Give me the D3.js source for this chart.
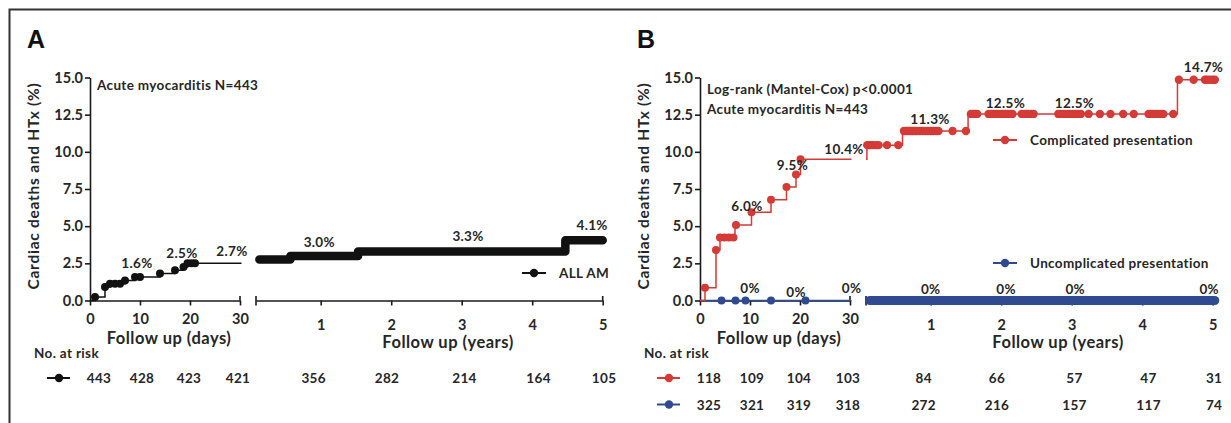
<!DOCTYPE html>
<html lang="en">
<head>
<meta charset="utf-8"/>
<title>Cardiac deaths and HTx</title>
<script src="https://cdn.jsdelivr.net/npm/d3@7"></script>
<style>
  body { margin: 0; background: #fff; }
  svg text { font-family: Lato, "Open Sans", sans-serif; font-weight: 700; fill: #262626; }
  svg text.small { font-size: 13.5px; letter-spacing: 0.35px; }
</style>
</head>
<body>
<svg id="chart" width="1231" height="423"></svg>
<script>
// ---------- data ----------
const yTicks = [0, 2.5, 5, 7.5, 10, 12.5, 15];
const dayTicks = [0, 10, 20, 30];
const yearTicks = [1, 2, 3, 4, 5];

// panel A - all AM, first 30 days (step curve + event dots)
const amDayT = [0, 1, 3, 4, 7, 9, 14, 17, 18.7, 19.5, 30.3];
const amDayV = [0, 0.23, 0.9, 1.13, 1.35, 1.58, 1.81, 2.03, 2.26, 2.5, 2.5];
const amDayDots = [1, 3, 4, 5, 6, 7, 9, 10, 14, 17, 18.7, 19.5, 20.3, 21];
// panel A - years (censor marks so dense they read as a thick bar)
const amYearT = [0.13, 0.57, 1.53, 4.47, 5.0];
const amYearV = [2.75, 3.0, 3.3, 4.05, 4.05];
const amDayLabels = [["1.6%", 9.4, 2.5], ["2.5%", 18.4, 3.18], ["2.7%", 28.4, 3.3]];
const amYearLabels = [["3.0%", 0.98, 3.94], ["3.3%", 3.09, 4.32], ["4.1%", 4.85, 5.07]];
const amRiskDays = [443, 428, 423, 421];
const amRiskYears = [356, 282, 214, 164, 105];

// panel B - complicated presentation
const compDayT = [0, 1, 3.2, 4, 7, 10.3, 14.2, 17.3, 19.2, 20.1, 30.3];
const compDayV = [0, 0.85, 3.39, 4.24, 5.08, 5.93, 6.78, 7.63, 8.47, 9.5, 9.5];
const compDayDots = [1, 3.2, 4, 4.9, 5.8, 6.7, 7.2, 10.3, 14.2, 17.3, 19.2, 20.1];
const compYearT = [0.082, 0.095, 0.6, 1.53, 4.5, 5.04];
const compYearV = [9.5, 10.45, 11.4, 12.55, 14.85, 14.85];
const compYearDots = [0.1, 0.13, 0.16, 0.19, 0.23, 0.26, 0.38, 0.54,
  0.62, 0.65, 0.68, 0.71, 0.74, 0.77, 0.8, 0.84, 0.88, 0.92, 0.96, 1.0, 1.04, 1.08, 1.11, 1.31, 1.5,
  1.57, 1.6, 1.63, 1.66, 1.82, 1.86, 1.89, 1.93, 1.96, 2.0, 2.03, 2.06, 2.1, 2.13, 2.16,
  2.29, 2.33, 2.36, 2.39, 2.43, 2.46,
  2.81, 2.84, 2.88, 2.91, 2.95, 2.98, 3.02, 3.06, 3.1, 3.13, 3.24, 3.4, 3.55, 3.73, 3.88,
  4.09, 4.12, 4.16, 4.2, 4.23, 4.27, 4.3, 4.44,
  4.52, 4.73, 4.89, 4.92, 4.96, 5.0, 5.03];
const compDayLabels = [["6.0%", 9.4, 6.35], ["9.5%", 18.5, 9.07], ["10.4%", 28.8, 10.15]];
const compYearLabels = [["11.3%", 0.99, 12.16], ["12.5%", 2.06, 13.24], ["12.5%", 3.04, 13.24], ["14.7%", 4.87, 15.72]];
const compRiskDays = [118, 109, 104, 103];
const compRiskYears = [84, 66, 57, 47, 31];

// panel B - uncomplicated presentation
const uncompDayT = [0, 30.3];
const uncompDayV = [0, 0];
const uncompDayDots = [4.3, 7.1, 9.1, 14.2, 21.1];
const uncompYearT = [0.135, 5.03];
const uncompYearV = [0, 0];
const uncompDayLabels = [["0%", 10, 0.85], ["0%", 19.2, 0.52], ["0%", 30.3, 0.85]];
const uncompYearLabels = [["0%", 1.0, 0.75], ["0%", 2.07, 0.75], ["0%", 3.05, 0.75], ["0%", 4.95, 0.75]];
const uncompRiskDays = [325, 321, 319, 318];
const uncompRiskYears = [272, 216, 157, 117, 74];

// where the risk numbers sit under the two axes
const riskDayPos = [1.8, 10.4, 19.8, 29.6];
const riskYearPos = [0.9, 1.94, 3.04, 4.09, 5.02];

const black = "#111", red = "#d43a36", blue = "#2f4a91";

// ---------- drawing ----------
const svg = d3.select("#chart");

// frame (top + left edges visible)
svg.append("path").attr("d", "M9.5,423V9.5H1231")
  .attr("fill", "none").attr("stroke", "#333").attr("stroke-width", 2);

const stepAt = (T, V, t) => V[Math.max(0, d3.bisectRight(T, t) - 1)];

function panel(ox, opts) {
  const g = svg.append("g");
  const y = d3.scaleLinear([0, 15], [300.5, 77.5]);
  const xd = d3.scaleLinear([0, 30], [ox, ox + 150]);
  const xy = d3.scaleLinear([0.082, 5], [ox + 166, ox + 512.7]);

  // panel letter
  g.append("text").attr("x", ox - 63).attr("y", 48)
    .style("font-family", "'Liberation Sans', Arial, sans-serif").style("font-size", "25px").style("fill", "#111")
    .text(opts.letter);

  // y axis
  const ya = g.append("g").attr("transform", `translate(${ox},0)`)
    .call(d3.axisLeft(y).tickValues(yTicks).tickFormat(d3.format(".1f")).tickSize(5).tickSizeOuter(0).tickPadding(2));
  ya.selectAll("text").style("font-size", "14.5px");
  g.append("text")
    .attr("transform", `translate(${ox - 56},${186}) rotate(-90)`)
    .attr("text-anchor", "middle").attr("dy", "0.35em")
    .style("font-size", "15.5px").style("letter-spacing", "0.75px")
    .text("Cardiac deaths and HTx (%)");

  // days axis
  const da = g.append("g").attr("transform", `translate(0,300.5)`)
    .call(d3.axisBottom(xd).tickValues(dayTicks).tickSize(5).tickSizeOuter(0).tickPadding(8));
  da.selectAll("text").style("font-size", "14.5px");
  g.append("line").attr("x1", xd(30)).attr("x2", xd(30)).attr("y1", 296).attr("y2", 300.5);

  // years axis
  const yra = g.append("g").attr("transform", `translate(0,300.5)`)
    .call(d3.axisBottom(xy).tickValues(yearTicks).tickFormat(d3.format("d"))
      .tickSize(5).tickSizeOuter(0).tickPadding(14));
  yra.selectAll("text").style("font-size", "14.5px");
  g.append("line").attr("x1", xy.range()[0]).attr("x2", xy.range()[0]).attr("y1", 296).attr("y2", 305.5);
  g.append("line").attr("x1", xy(5)).attr("x2", xy(5)).attr("y1", 296).attr("y2", 300.5);

  g.selectAll(".domain, .tick line, line").attr("stroke", "#1a1a1a").attr("stroke-width", 1.6);
  g.selectAll(".tick text").style("fill", "#262626");

  // axis titles
  g.append("text").attr("x", ox + 79).attr("y", 344).attr("text-anchor", "middle")
    .style("font-size", "16.5px").style("letter-spacing", "0.5px").text("Follow up (days)");
  g.append("text").attr("x", ox + 358).attr("y", 347.5).attr("text-anchor", "middle")
    .style("font-size", "16.5px").style("letter-spacing", "0.5px").text("Follow up (years)");

  // annotation lines at top
  opts.notes.forEach(([s, by]) => {
    g.append("text").attr("class", "small").attr("x", ox + 7).attr("y", by).text(s);
  });

  // series
  const dayLine = d3.line().x(d => xd(d[0])).y(d => y(d[1])).curve(d3.curveStepAfter);
  const yearLine = d3.line().x(d => xy(d[0])).y(d => y(d[1])).curve(d3.curveStepAfter);

  opts.series.forEach(s => {
    // days part
    g.append("path").datum(d3.zip(s.dayT, s.dayV)).attr("d", dayLine)
      .attr("fill", "none").attr("stroke", s.color).attr("stroke-width", 1.5);
    g.selectAll(null).data(s.dayDots).join("circle")
      .attr("cx", t => xd(t)).attr("cy", t => y(stepAt(s.dayT, s.dayV, t)))
      .attr("r", 4).attr("fill", s.color);
    // years part
    if (s.yearDots) {
      g.append("path").datum(d3.zip(s.yearT, s.yearV)).attr("d", yearLine)
        .attr("fill", "none").attr("stroke", s.color).attr("stroke-width", 1.5);
      g.selectAll(null).data(s.yearDots).join("circle")
        .attr("cx", t => xy(t)).attr("cy", t => y(stepAt(s.yearT, s.yearV, t)))
        .attr("r", 4.2).attr("fill", s.color);
    } else {
      g.append("path").datum(d3.zip(s.yearT, s.yearV)).attr("d", yearLine)
        .attr("fill", "none").attr("stroke", s.color).attr("stroke-width", s.barWidth)
        .attr("stroke-linecap", "round").attr("stroke-linejoin", "round");
    }
    // value labels
    s.dayLabels.forEach(([txt, t, v]) => {
      g.append("text").attr("class", "small").attr("x", xd(t)).attr("y", y(v)).attr("dy", "0.35em")
        .attr("text-anchor", "middle").text(txt);
    });
    s.yearLabels.forEach(([txt, t, v]) => {
      g.append("text").attr("class", "small").attr("x", xy(t)).attr("y", y(v)).attr("dy", "0.35em")
        .attr("text-anchor", "middle").text(txt);
    });
    // legend entry
    const lg = g.append("g").attr("transform", `translate(${s.legend[0]},${s.legend[1]})`);
    lg.append("line").attr("x1", -12).attr("x2", 12).attr("stroke", s.color).attr("stroke-width", 2);
    lg.append("circle").attr("r", 4.2).attr("fill", s.color);
    lg.append("text").attr("class", "small").attr("x", 25).attr("dy", "0.35em").text(s.name);

    // number at risk row
    const rk = g.append("g").attr("transform", `translate(0,${s.riskY})`);
    rk.append("line").attr("x1", ox - 43).attr("x2", ox - 20).attr("y1", -5).attr("y2", -5)
      .attr("stroke", s.color).attr("stroke-width", 2);
    rk.append("circle").attr("cx", ox - 31).attr("cy", -5).attr("r", 4.2).attr("fill", s.color);
    s.riskDays.forEach((n, i) => {
      rk.append("text").attr("class", "small").attr("x", xd(riskDayPos[i])).attr("text-anchor", "middle").text(n);
    });
    s.riskYears.forEach((n, i) => {
      rk.append("text").attr("class", "small").attr("x", xy(riskYearPos[i])).attr("text-anchor", "middle").text(n);
    });
  });

  g.append("text").attr("class", "small").attr("x", ox - 56).attr("y", 358).text("No. at risk");
}

panel(90, {
  letter: "A",
  notes: [["Acute myocarditis N=443", 89.5]],
  series: [{
    name: "ALL AM", color: black,
    dayT: amDayT, dayV: amDayV, dayDots: amDayDots,
    yearT: amYearT, yearV: amYearV, barWidth: 8.5,
    dayLabels: amDayLabels, yearLabels: amYearLabels,
    legend: [534, 273], riskY: 383,
    riskDays: amRiskDays, riskYears: amRiskYears
  }]
});

panel(700, {
  letter: "B",
  notes: [["Log-rank (Mantel-Cox) p<0.0001", 94], ["Acute myocarditis N=443", 113.5]],
  series: [{
    name: "Uncomplicated presentation", color: blue,
    dayT: uncompDayT, dayV: uncompDayV, dayDots: uncompDayDots,
    yearT: uncompYearT, yearV: uncompYearV, barWidth: 9,
    dayLabels: uncompDayLabels, yearLabels: uncompYearLabels,
    legend: [1005, 263], riskY: 409.5,
    riskDays: uncompRiskDays, riskYears: uncompRiskYears
  }, {
    name: "Complicated presentation", color: red,
    dayT: compDayT, dayV: compDayV, dayDots: compDayDots,
    yearT: compYearT, yearV: compYearV, yearDots: compYearDots,
    dayLabels: compDayLabels, yearLabels: compYearLabels,
    legend: [1005, 140], riskY: 383,
    riskDays: compRiskDays, riskYears: compRiskYears
  }]
});
</script>
</body>
</html>
